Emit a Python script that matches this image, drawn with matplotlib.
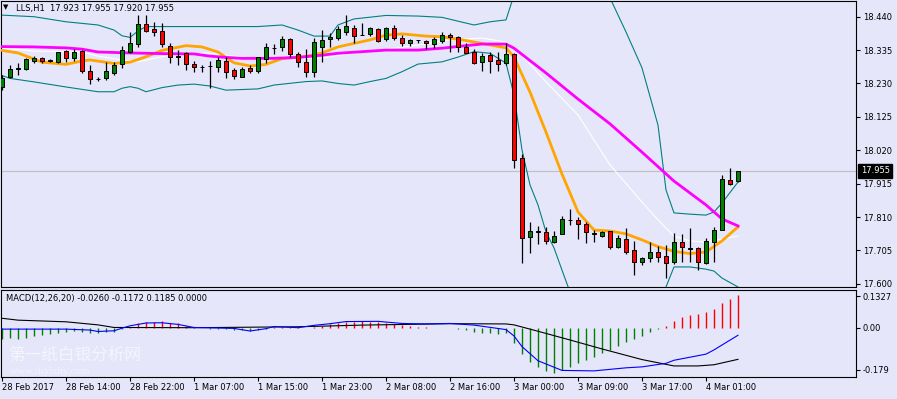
import numpy as np
import matplotlib
matplotlib.use('Agg')
import matplotlib.pyplot as plt

plt.rcParams['font.family'] = ['DejaVu Sans']

BG = '#E6E6FA'
W, H = 897, 399

# LLS H1 candles (open, high, low, close), oldest first
opens = [18.220, 18.251, 18.276, 18.274, 18.302, 18.309, 18.302, 18.297, 18.331, 18.311,
         18.331, 18.269, 18.245, 18.246, 18.262, 18.291, 18.330, 18.353, 18.416, 18.401,
         18.394, 18.348, 18.315, 18.326, 18.290, 18.283, 18.286, 18.283, 18.302, 18.272,
         18.251, 18.279, 18.270, 18.307, 18.342, 18.344, 18.369, 18.323, 18.296, 18.265,
         18.346, 18.369, 18.372, 18.393, 18.406, 18.384, 18.386, 18.401, 18.369, 18.406,
         18.372, 18.356, 18.367, 18.365, 18.353, 18.365, 18.382, 18.375, 18.346, 18.330,
         18.296, 18.320, 18.304, 18.293, 18.323, 17.995, 17.746, 17.764, 17.762, 17.732,
         17.756, 17.800, 17.801, 17.788, 17.759, 17.751, 17.766, 17.717, 17.741, 17.706,
         17.668, 17.682, 17.699, 17.688, 17.670, 17.730, 17.712, 17.712, 17.664, 17.730,
         17.769, 17.927, 17.923]
highs = [18.257, 18.288, 18.293, 18.309, 18.316, 18.314, 18.307, 18.330, 18.335, 18.338,
         18.335, 18.288, 18.251, 18.299, 18.299, 18.348, 18.393, 18.445, 18.445, 18.424,
         18.419, 18.356, 18.335, 18.330, 18.302, 18.288, 18.302, 18.312, 18.312, 18.278,
         18.283, 18.288, 18.314, 18.356, 18.353, 18.379, 18.372, 18.328, 18.340, 18.372,
         18.398, 18.388, 18.411, 18.445, 18.414, 18.421, 18.409, 18.406, 18.409, 18.414,
         18.382, 18.370, 18.367, 18.367, 18.377, 18.393, 18.388, 18.380, 18.356, 18.337,
         18.327, 18.330, 18.330, 18.356, 18.325, 18.008, 17.793, 17.782, 17.780, 17.765,
         17.813, 17.834, 17.811, 17.795, 17.769, 17.766, 17.766, 17.753, 17.774, 17.736,
         17.685, 17.730, 17.720, 17.722, 17.761, 17.757, 17.774, 17.717, 17.743, 17.778,
         17.942, 17.963, 17.955]
lows = [18.209, 18.248, 18.257, 18.272, 18.293, 18.293, 18.297, 18.293, 18.299, 18.302,
        18.264, 18.227, 18.238, 18.241, 18.257, 18.278, 18.325, 18.346, 18.393, 18.380,
        18.346, 18.293, 18.288, 18.272, 18.267, 18.267, 18.215, 18.267, 18.248, 18.243,
        18.251, 18.262, 18.262, 18.293, 18.322, 18.333, 18.314, 18.283, 18.249, 18.249,
        18.296, 18.346, 18.367, 18.382, 18.356, 18.382, 18.380, 18.359, 18.365, 18.367,
        18.349, 18.349, 18.358, 18.337, 18.343, 18.356, 18.330, 18.328, 18.325, 18.290,
        18.270, 18.262, 18.270, 18.288, 17.963, 17.666, 17.696, 17.725, 17.725, 17.727,
        17.756, 17.785, 17.740, 17.727, 17.732, 17.746, 17.708, 17.712, 17.693, 17.628,
        17.659, 17.670, 17.670, 17.619, 17.662, 17.670, 17.670, 17.643, 17.661, 17.668,
        17.769, 17.911, 17.920]
closes = [18.246, 18.275, 18.278, 18.306, 18.309, 18.302, 18.303, 18.328, 18.309, 18.329,
          18.270, 18.244, 18.244, 18.269, 18.288, 18.334, 18.358, 18.417, 18.396, 18.391,
          18.353, 18.314, 18.314, 18.290, 18.281, 18.283, 18.286, 18.304, 18.267, 18.253,
          18.275, 18.270, 18.312, 18.344, 18.343, 18.369, 18.322, 18.296, 18.265, 18.359,
          18.367, 18.375, 18.401, 18.411, 18.380, 18.383, 18.403, 18.365, 18.403, 18.372,
          18.356, 18.367, 18.366, 18.356, 18.370, 18.382, 18.375, 18.346, 18.327, 18.295,
          18.317, 18.302, 18.290, 18.323, 17.990, 17.743, 17.765, 17.765, 17.736, 17.750,
          17.803, 17.801, 17.787, 17.762, 17.758, 17.762, 17.717, 17.743, 17.699, 17.668,
          17.680, 17.699, 17.685, 17.664, 17.730, 17.717, 17.711, 17.668, 17.735, 17.769,
          17.929, 17.914, 17.955]

# indicator lines (bar index, value)
ma_slow_idx = [0, 4, 8, 10, 12, 16, 20, 24, 26, 28, 30, 34, 37, 40, 42, 45, 48, 52, 55, 58,
               60, 63, 64, 68, 72, 76, 80, 84, 88, 90, 92]
ma_slow = [18.346, 18.345, 18.342, 18.338, 18.329, 18.326, 18.324, 18.323, 18.316, 18.312,
           18.309, 18.309, 18.312, 18.319, 18.325, 18.330, 18.335, 18.335, 18.341, 18.349,
           18.354, 18.354, 18.341, 18.263, 18.181, 18.103, 18.014, 17.923, 17.848, 17.804,
           17.782]

ma_fast_idx = [0, 2, 5, 8, 10, 11, 14, 16, 18, 20, 23, 25, 27, 29, 31, 33, 35, 38, 40, 42,
               44, 46, 48, 50, 53, 55, 58, 60, 63, 64, 66, 68, 70, 72, 74, 76, 78, 80, 82, 84,
               86, 88, 90, 92]
ma_fast = [18.334, 18.326, 18.297, 18.290, 18.301, 18.304, 18.293, 18.297, 18.314, 18.334,
           18.349, 18.345, 18.329, 18.295, 18.285, 18.290, 18.308, 18.315, 18.326, 18.345,
           18.356, 18.367, 18.382, 18.386, 18.379, 18.377, 18.365, 18.356, 18.342, 18.313,
           18.203, 18.077, 17.945, 17.826, 17.769, 17.766, 17.757, 17.738, 17.717, 17.702,
           17.695, 17.700, 17.735, 17.779]

bb_mid_idx = [0, 4, 10, 12, 15, 17, 20, 22, 26, 28, 32, 40, 44, 48, 52, 56, 60, 63, 64, 66,
              68, 72, 76, 80, 82, 84, 86, 88, 90, 92]
bb_mid = [18.341, 18.332, 18.329, 18.316, 18.304, 18.298, 18.314, 18.325, 18.325, 18.319,
          18.308, 18.310, 18.326, 18.338, 18.351, 18.367, 18.373, 18.360, 18.342, 18.291,
          18.235, 18.131, 17.974, 17.857, 17.801, 17.750, 17.735, 17.731, 17.741, 17.750]

bb_up_idx = [0, 4, 8, 12, 14, 15, 16, 17, 18, 24, 32, 35, 37, 39, 41, 42, 44, 48, 52, 55,
             57, 59, 61, 63, 64, 66, 68, 72, 76, 78, 80, 82, 83, 84, 86, 88, 89, 90, 92]
bb_up = [18.445, 18.440, 18.424, 18.414, 18.398, 18.380, 18.375, 18.395, 18.409, 18.409,
         18.409, 18.414, 18.398, 18.379, 18.379, 18.414, 18.433, 18.444, 18.442, 18.438,
         18.426, 18.414, 18.424, 18.430, 18.508, 18.681, 18.744, 18.713, 18.499, 18.392,
         18.279, 18.099, 17.895, 17.823, 17.819, 17.816, 17.826, 17.854, 17.920]

bb_lo_idx = [0, 1, 4, 8, 12, 14, 15, 16, 17, 18, 20, 22, 24, 26, 28, 32, 34, 38, 40, 42,
             44, 46, 48, 50, 52, 55, 57, 59, 61, 63, 64, 65, 66, 67, 68, 69, 70, 71, 74, 78,
             82, 83, 84, 86, 88, 89, 90, 92]
bb_lo = [18.255, 18.246, 18.235, 18.219, 18.204, 18.204, 18.215, 18.220, 18.215, 18.204,
         18.217, 18.225, 18.228, 18.222, 18.209, 18.213, 18.225, 18.236, 18.238, 18.230,
         18.225, 18.236, 18.246, 18.267, 18.291, 18.298, 18.313, 18.330, 18.325, 18.294,
         18.194, 18.021, 17.911, 17.848, 17.763, 17.713, 17.643, 17.574, 17.455, 17.392,
         17.518, 17.590, 17.653, 17.653, 17.646, 17.640, 17.618, 17.590]

# MACD panel
macd_hist = [-0.049, -0.045, -0.048, -0.045, -0.035, -0.031, -0.028, -0.024, -0.020, -0.013,
             -0.017, -0.021, -0.021, -0.020, -0.017, -0.007, 0.002, 0.018, 0.023, 0.025,
             0.027, 0.021, 0.018, 0.007, 0.001, -0.003, -0.004, -0.004, -0.006, -0.010,
             -0.010, -0.014, -0.010, -0.006, 0.001, 0.002, 0.002, 0.001, -0.003, 0.003,
             0.008, 0.014, 0.021, 0.024, 0.025, 0.028, 0.025, 0.024, 0.021, 0.017,
             0.010, 0.006, 0.003, 0.001, -0.003, -0.002, -0.003, -0.007, -0.010, -0.017,
             -0.021, -0.024, -0.027, -0.024, -0.064, -0.112, -0.144, -0.168, -0.184, -0.191,
             -0.179, -0.168, -0.151, -0.137, -0.126, -0.109, -0.095, -0.076, -0.062, -0.048,
             -0.034, -0.020, -0.004, 0.007, 0.030, 0.047, 0.054, 0.056, 0.066, 0.079,
             0.106, 0.121, 0.138]

macd_blue_idx = [0, 8, 11, 12, 14, 15, 16, 18, 20, 22, 24, 29, 31, 33, 34, 37, 39, 41, 43, 47,
                 50, 53, 56, 59, 63, 64, 65, 67, 70, 74, 78, 80, 83, 84, 88, 89, 92]
macd_blue = [-0.006, -0.006, -0.010, -0.016, -0.013, -0.002, 0.008, 0.020, 0.021, 0.014,
             0.001, -0.003, -0.014, -0.004, 0.005, 0.000, 0.010, 0.017, 0.026, 0.027,
             0.018, 0.016, 0.018, 0.011, -0.008, -0.035, -0.080, -0.140, -0.181, -0.183,
             -0.170, -0.166, -0.151, -0.138, -0.112, -0.094, -0.032]

macd_black_idx = [0, 2, 8, 12, 14, 24, 37, 45, 56, 63, 64, 67, 71, 75, 80, 84, 87, 89, 92]
macd_black = [0.040, 0.032, 0.025, 0.012, 0.001, 0.000, 0.004, 0.011, 0.017, 0.016,
              0.012, -0.015, -0.052, -0.090, -0.135, -0.162, -0.162, -0.157, -0.134]

price_ticks = [18.440, 18.335, 18.230, 18.125, 18.020, 17.915, 17.810, 17.705, 17.600]
macd_ticks = [0.1327, 0.0, -0.179]
macd_tick_labels = ['0.1327', '0.00', '-0.179']
time_tick_idx = [0, 8, 16, 24, 32, 40, 48, 56, 64, 72, 80, 88]
time_labels = ['28 Feb 2017', '28 Feb 14:00', '28 Feb 22:00', '1 Mar 07:00', '1 Mar 15:00',
               '1 Mar 23:00', '2 Mar 08:00', '2 Mar 16:00', '3 Mar 00:00', '3 Mar 09:00',
               '3 Mar 17:00', '4 Mar 01:00']
last_price = 17.955


def fx(px):
    return px / W


def fy(py):
    return 1 - py / H


fig = plt.figure(figsize=(W / 100, H / 100), dpi=100, facecolor=BG)
ax = fig.add_axes([fx(0.5), fy(286.5), fx(856) - fx(0.5), fy(1) - fy(286.5)], facecolor=BG)
ax2 = fig.add_axes([fx(0.5), fy(377), fx(856) - fx(0.5), fy(289.5) - fy(377)], facecolor=BG)

# main panel
ax.axhline(last_price, color='#C0C0C0', lw=0.8, zorder=1)
ax.plot(bb_up_idx, bb_up, color='#008080', lw=0.8, zorder=2)
ax.plot(bb_lo_idx, bb_lo, color='#008080', lw=0.8, zorder=2)
ax.plot(bb_mid_idx, bb_mid, color='white', lw=0.8, zorder=2)
ax.plot(ma_fast_idx, ma_fast, color='#FFA500', lw=2, zorder=3)
ax.plot(ma_slow_idx, ma_slow, color='#FF00FF', lw=2, zorder=3)

idx = np.arange(len(opens))
o = np.array(opens)
c = np.array(closes)
ax.vlines(idx, lows, highs, color='black', lw=0.9, zorder=4)
body_cols = ['#008000' if cc >= oo else '#FF0000' for oo, cc in zip(o, c)]
ax.bar(idx, c - o, bottom=o, width=0.5, color=body_cols, edgecolor='black', lw=0.7, zorder=5)

ax.set_xlim(-0.1875, 106.75)
ax.set_ylim(17.5915, 18.4894)
ax.yaxis.tick_right()
ax.set_yticks(price_ticks)
ax.set_yticklabels(['%.3f' % p for p in price_ticks])
ax.tick_params(axis='y', direction='out', length=3, width=0.8, pad=2, labelsize=6)
ax.tick_params(axis='x', bottom=False, labelbottom=False)
ax.annotate('%.3f' % last_price, xy=(1, last_price), xycoords=('axes fraction', 'data'),
            xytext=(3.5, 0), textcoords='offset points', va='center', ha='left',
            color='white', fontsize=6,
            bbox=dict(boxstyle='square,pad=0.3', fc='black', ec='black'))

# MACD panel
hist_cols = ['#FF0000' if v > 0 else '#008000' for v in macd_hist]
ax2.vlines(idx, 0, macd_hist, colors=hist_cols, lw=1, zorder=2)
ax2.plot(macd_black_idx, macd_black, color='black', lw=0.8, zorder=3)
ax2.plot(macd_blue_idx, macd_blue, color='#0000FF', lw=0.8, zorder=3)
ax2.set_xlim(-0.1875, 106.75)
ax2.set_ylim(-0.2089, 0.1619)
ax2.yaxis.tick_right()
ax2.set_yticks(macd_ticks)
ax2.set_yticklabels(macd_tick_labels)
ax2.tick_params(axis='y', direction='out', length=3, width=0.8, pad=2, labelsize=6)
ax2.set_xticks(time_tick_idx)
ax2.set_xticklabels(time_labels)
ax2.tick_params(axis='x', direction='out', length=3, width=0.8, pad=1.5, labelsize=6)
for lbl in ax2.get_xticklabels():
    lbl.set_horizontalalignment('left')

for a in (ax, ax2):
    for s in a.spines.values():
        s.set_color('black')
        s.set_linewidth(0.8)

# texts
fig.text(fx(3), fy(7.5), '\u25bc', fontsize=5, va='center', ha='left')
fig.text(fx(16), fy(8), 'LLS,H1  17.923 17.955 17.920 17.955', fontsize=6, va='center', ha='left')
fig.text(fx(6), fy(298), 'MACD(12,26,20) -0.0260 -0.1172 0.1185 0.0000', fontsize=6,
         va='center', ha='left')
fig.text(fx(8), fy(355.5), '第一纸白银分析网', fontsize=12, color='white', alpha=0.6,
         family=['Noto Sans CJK SC', 'DejaVu Sans'], va='center', ha='left')
# faint site watermark, kept just above the time labels
fig.text(fx(10), fy(371), 'www.diyizby.com', fontsize=8, color='white', alpha=0.45,
         family=['Liberation Serif'], va='center', ha='left')

fig.savefig('out.png', dpi=100, facecolor=BG)
